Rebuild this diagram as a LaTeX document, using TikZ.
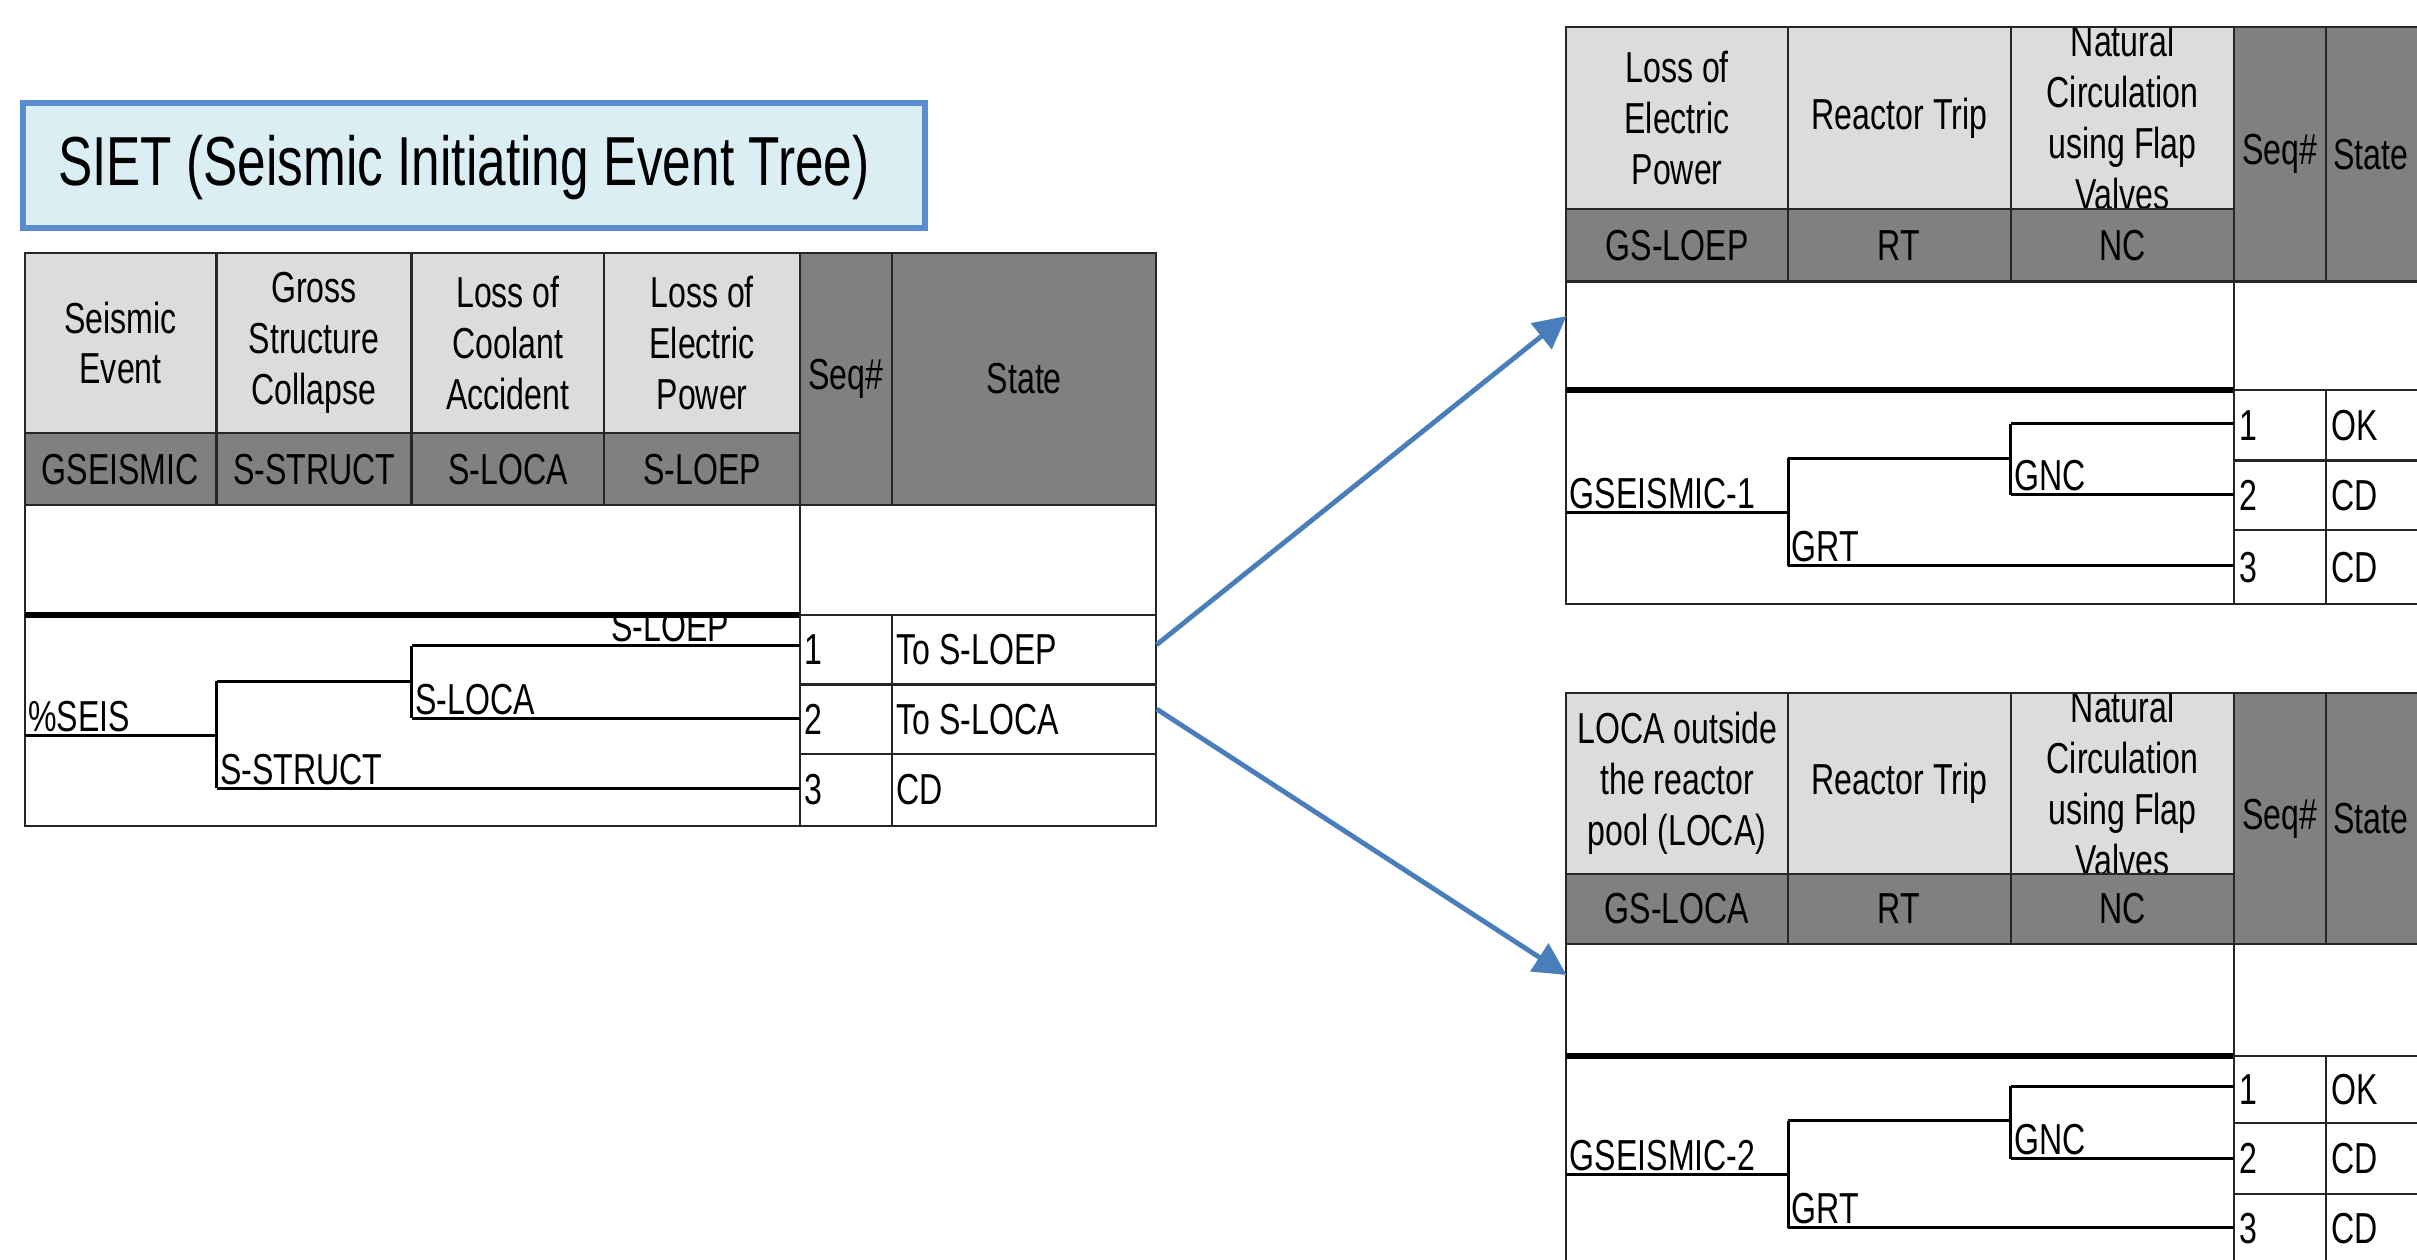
\documentclass[tikz,border=0pt]{standalone}
\usepackage{fontspec}
\setmainfont{Liberation Sans}[FakeStretch=0.74]
\usepackage{xcolor}
\usepackage{tikz}
\usetikzlibrary{arrows.meta}

\definecolor{hdrgray}{HTML}{DCDCDC}
\definecolor{idgray}{HTML}{808080}
\definecolor{titlefill}{HTML}{DAEEF3}
\definecolor{titledraw}{HTML}{5A8DCF}
\definecolor{arrblue}{HTML}{4A7EBB}

% header cell: fill, text clipped to the cell, border
\newcommand{\hdrcell}[6]{%
  \fill[hdrgray] (#1,#2) rectangle (#3,#4);
  \begin{scope}
    \clip (#1,#2) rectangle (#3,#4);
    \node[hdr] (#5) at ({(#1+#3)/2},{(#2+#4)/2}) {#6};
  \end{scope}
  \draw[grid] (#1,#2) rectangle (#3,#4);}

\begin{document}
\begin{tikzpicture}[
  x=0.01cm, y=-0.01cm,
  font=\fontsize{8}{9.4}\selectfont,
  hdr/.style={align=center, inner sep=0pt},
  grid/.style={draw=black!85, line width=0.4pt},
  sepline/.style={line width=1pt},
  branch/.style={line width=0.55pt},
  blab/.style={anchor=south west, inner sep=0.5pt},
  seqno/.style={anchor=west, inner sep=0pt},
  titlebox/.style={draw=titledraw, fill=titlefill, line width=1.1pt,
                   minimum width=5.85cm, minimum height=0.81cm, inner sep=0pt},
  titletext/.style={anchor=west, inner sep=0pt, font=\fontsize{12.8}{15}\selectfont},
  arr/.style={-{Triangle[length=6pt, width=6pt]}, draw=arrblue, line width=0.9pt}
]
\useasboundingbox (0,0) rectangle (1568,817);
\clip (0,0) rectangle (1568,817);

%% title
\node[titlebox] (siet) at (307.5,107.5) {};
\node[titletext] (sietlbl) at (37,109) {SIET (Seismic Initiating Event Tree)};

%% left tree: header
\hdrcell{16}{164}{140.5}{281}{hSeis}{Seismic\\Event}
\hdrcell{140.5}{164}{267}{281}{hStruct}{Gross\\Structure\\Collapse}
\hdrcell{267}{164}{392}{281}{hLoca}{Loss of\\Coolant\\Accident}
\hdrcell{392}{164}{519}{281}{hLoep}{Loss of\\Electric\\Power}
\fill[idgray] (16,281) rectangle (519,327.5);
\fill[idgray] (519,164) rectangle (750,327.5);
\draw[grid] (16,281) rectangle (519,327.5)
  (140.5,281) -- (140.5,327.5) (267,281) -- (267,327.5) (392,281) -- (392,327.5);
\draw[grid] (519,164) rectangle (750,327.5) (578.5,164) -- (578.5,327.5);
\node[hdr] (iSeis)   at (78,304.5)  {GSEISMIC};
\node[hdr] (iStruct) at (204,304.5) {S-STRUCT};
\node[hdr] (iLoca)   at (329.5,304.5) {S-LOCA};
\node[hdr] (iLoep)   at (455.5,304.5) {S-LOEP};
\node[hdr] (hSeq)    at (548.7,245.5) {Seq\#};
\node[hdr] (hState)  at (664.5,245.5) {State};
%% blank row and branch area
\draw[grid] (16,327.5) rectangle (519,399) (519,327.5) rectangle (750,399);
\draw[grid] (16,399) rectangle (519,536);
\draw[sepline] (16,399) -- (519,399);
\draw[grid] (519,399) rectangle (750,536) (578.5,399) -- (578.5,536)
  (519,444) -- (750,444) (519,489) -- (750,489);
%% branches
\draw[branch] (16,477) -- (140.5,477) (140.5,442) -- (140.5,511.5)
  (140.5,442) -- (267,442) (267,419) -- (267,466)
  (267,419) -- (519,419) (267,466) -- (519,466) (140.5,511.5) -- (519,511.5);
\node[blab] (lSeis)   at (16,477)    {\%SEIS};
\node[blab] (lStruct) at (140.5,511.5) {S-STRUCT};
\node[blab] (lLoca)   at (267,466)   {S-LOCA};
\begin{scope}
  \clip (16,400) rectangle (519,536);
  \node[blab] (lLoep) at (394,419) {S-LOEP};
\end{scope}
\node[seqno] (ln1) at (521,421.5) {1};
\node[seqno] (ln2) at (521,466.5) {2};
\node[seqno] (ln3) at (521,512.5) {3};
\node[seqno] (ls1) at (581,421.5) {To S-LOEP};
\node[seqno] (ls2) at (581,466.5) {To S-LOCA};
\node[seqno] (ls3) at (581,512.5) {CD};

%% right tree 1 (S-LOEP)
\hdrcell{1016}{17.4}{1160}{135.4}{ahLoep}{Loss of\\Electric\\Power}
\hdrcell{1160}{17.4}{1304.5}{135.4}{ahRt}{Reactor Trip}
\hdrcell{1304.5}{17.4}{1449.5}{135.4}{ahNc}{Natural\\Circulation\\using Flap\\Valves}
\fill[idgray] (1016,135.4) rectangle (1449.5,182.6);
\fill[idgray] (1449.5,17.4) rectangle (1580,182.6);
\draw[grid] (1016,135.4) rectangle (1449.5,182.6)
  (1160,135.4) -- (1160,182.6) (1304.5,135.4) -- (1304.5,182.6);
\draw[grid] (1449.5,17.4) rectangle (1580,182.6) (1509,17.4) -- (1509,182.6);
\node[hdr] (aiLoep) at (1088,159) {GS-LOEP};
\node[hdr] (aiRt)   at (1232,159) {RT};
\node[hdr] (aiNc)   at (1377,159) {NC};
\node[hdr] (ahSeq)  at (1479,100) {Seq\#};
\node[hdr] (ahState) at (1538,100) {State};
\draw[grid] (1016,182.6) rectangle (1449.5,253) (1449.5,182.6) rectangle (1580,253);
\draw[grid] (1016,253) rectangle (1449.5,391.8);
\draw[sepline] (1016,253) -- (1449.5,253);
\draw[grid] (1449.5,253) rectangle (1580,391.8) (1509,253) -- (1509,391.8)
  (1449.5,298.7) -- (1580,298.7) (1449.5,344) -- (1580,344);
\draw[branch] (1016,332.6) -- (1160,332.6) (1160,297.4) -- (1160,367)
  (1160,297.4) -- (1304.5,297.4) (1304.5,275) -- (1304.5,321)
  (1304.5,275) -- (1449.5,275) (1304.5,321) -- (1449.5,321) (1160,367) -- (1449.5,367);
\node[blab] (alRoot) at (1016,332.6) {GSEISMIC-1};
\node[blab] (alNc)   at (1304.5,321) {GNC};
\node[blab] (alRt)   at (1160,367)   {GRT};
\node[seqno] (an1) at (1452,276)   {1};
\node[seqno] (an2) at (1452,321.4) {2};
\node[seqno] (an3) at (1452,368)   {3};
\node[seqno] (as1) at (1512,276)   {OK};
\node[seqno] (as2) at (1512,321.4) {CD};
\node[seqno] (as3) at (1512,368)   {CD};

%% right tree 2 (S-LOCA)
\hdrcell{1016}{449.5}{1160}{567}{bhLoca}{LOCA outside\\the reactor\\pool (LOCA)}
\hdrcell{1160}{449.5}{1304.5}{567}{bhRt}{Reactor Trip}
\hdrcell{1304.5}{449.5}{1449.5}{567}{bhNc}{Natural\\Circulation\\using Flap\\Valves}
\fill[idgray] (1016,567) rectangle (1449.5,612.2);
\fill[idgray] (1449.5,449.5) rectangle (1580,612.2);
\draw[grid] (1016,567) rectangle (1449.5,612.2)
  (1160,567) -- (1160,612.2) (1304.5,567) -- (1304.5,612.2);
\draw[grid] (1449.5,449.5) rectangle (1580,612.2) (1509,449.5) -- (1509,612.2);
\node[hdr] (biLoca) at (1088,589.6) {GS-LOCA};
\node[hdr] (biRt)   at (1232,589.6) {RT};
\node[hdr] (biNc)   at (1377,589.6) {NC};
\node[hdr] (bhSeq)  at (1479,530.9) {Seq\#};
\node[hdr] (bhState) at (1538,530.9) {State};
\draw[grid] (1016,612.2) rectangle (1449.5,685) (1449.5,612.2) rectangle (1580,685);
\draw[grid] (1016,685) rectangle (1449.5,860);
\draw[sepline] (1016,685) -- (1449.5,685);
\draw[grid] (1449.5,685) rectangle (1580,860) (1509,685) -- (1509,860)
  (1449.5,728.7) -- (1580,728.7) (1449.5,774.4) -- (1580,774.4);
\draw[branch] (1016,762) -- (1160,762) (1160,727) -- (1160,796.6)
  (1160,727) -- (1304.5,727) (1304.5,704.7) -- (1304.5,751.8)
  (1304.5,704.7) -- (1449.5,704.7) (1304.5,751.8) -- (1449.5,751.8) (1160,796.6) -- (1449.5,796.6);
\node[blab] (blRoot) at (1016,762)     {GSEISMIC-2};
\node[blab] (blNc)   at (1304.5,751.8) {GNC};
\node[blab] (blRt)   at (1160,796.6)   {GRT};
\node[seqno] (bn1) at (1452,707)   {1};
\node[seqno] (bn2) at (1452,751.5) {2};
\node[seqno] (bn3) at (1452,797)   {3};
\node[seqno] (bs1) at (1512,707)   {OK};
\node[seqno] (bs2) at (1512,751.5) {CD};
\node[seqno] (bs3) at (1512,797)   {CD};

%% arrows to the transferred trees
\coordinate (out1) at (750.4,418.2);
\coordinate (out2) at (750.4,460);
\coordinate (in1)  at (1016.3,205);
\coordinate (in2)  at (1016.3,632.5);
\draw[arr] (out1) -- (in1);
\draw[arr] (out2) -- (in2);
\end{tikzpicture}
\end{document}
